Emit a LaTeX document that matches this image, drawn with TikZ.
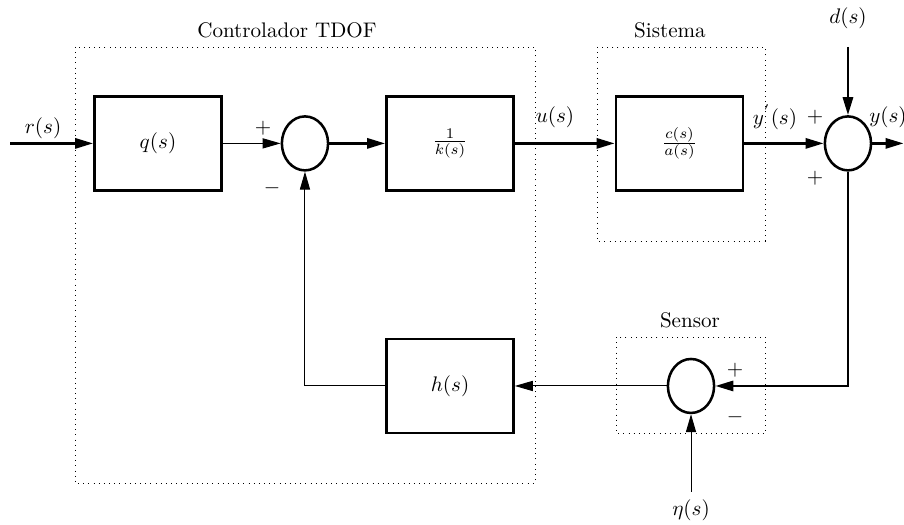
\documentclass[tikz,border=0pt]{standalone}
\usetikzlibrary{arrows.meta, shapes.geometric}

\begin{document}
\begin{tikzpicture}[>={Triangle[length=8.5pt,width=4.8pt]},
  blk/.style={draw, line width=1.2pt, minimum width=2.12cm, minimum height=1.57cm},
  sumc/.style={draw, ellipse, line width=1.2pt, minimum width=0.77cm, minimum height=0.9cm, inner sep=0pt},
  grp/.style={draw, dotted, line width=0.45pt},
  thk/.style={line width=1.2pt},
  thn/.style={line width=0.45pt}]
\useasboundingbox (0,0) rectangle (15.067,-8.75);
% dotted groups
\draw[grp] (1.25,-0.783) rectangle (8.917,-8.05);
\draw[grp] (9.95,-0.783) rectangle (12.75,-4.017);
\draw[grp] (10.283,-5.617) rectangle (12.75,-7.233);
\node (tctl) at (4.783,-0.5) {Controlador TDOF};
\node (tsys) at (11.167,-0.5) {Sistema};
\node (tsen) at (11.5,-5.333) {Sensor};
% blocks
\node[blk] (q) at (2.633,-2.39) {$q(s)$};
\node[sumc] (s1) at (5.083,-2.39) {};
\node[blk] (k) at (7.5,-2.39) {$\frac{1}{k(s)}$};
\node[blk] (ca) at (11.325,-2.39) {$\frac{c(s)}{a(s)}$};
\node[sumc] (s2) at (14.133,-2.39) {};
\node[sumc] (s3) at (11.517,-6.433) {};
\node[blk] (h) at (7.5,-6.433) {$h(s)$};
% free ends
\coordinate (rin) at (0.167,-2.39);
\coordinate (din) at (14.133,-0.783);
\coordinate (yout) at (15.06,-2.39);
\coordinate (nin) at (11.517,-8.2);
\coordinate (fbr) at (14.133,-6.433);
\coordinate (fbl) at (5.083,-6.433);
% signals
\draw[thk,->] (rin) -- (q.west);
\draw[thn,->] (q.east) -- (s1.west);
\draw[thk,->] (s1.east) -- (k.west);
\draw[thk,->] (k.east) -- (ca.west);
\draw[thk,->] (ca.east) -- (s2.west);
\draw[thk,->] (din) -- (s2.north);
\draw[thk,->] (s2.east) -- (yout);
\draw[thk,->] (s2.south) -- (fbr) -- (s3.east);
\draw[thn,->] (nin) -- (s3.south);
\draw[thn,->] (s3.west) -- (h.east);
\draw[thn,->] (h.west) -- (fbl) -- (s1.south);
% labels
\node (lr) at (0.717,-2.133) {$r(s)$};
\node (lu) at (9.25,-1.95) {$u(s)$};
\node (ld) at (14.133,-0.3) {$d(s)$};
\node (ly) at (14.8,-1.95) {$y(s)$};
\node (lyp) at (12.917,-1.95) {$y^{'}(s)$};
\node (p2a) at (13.583,-1.95) {$+$};
\node (p2b) at (13.583,-2.967) {$+$};
\node (p1) at (4.383,-2.133) {$+$};
\node (m1) at (4.533,-3.133) {$-$};
\node (p3) at (12.25,-6.167) {$+$};
\node (m3) at (12.25,-6.95) {$-$};
\node (ln) at (11.517,-8.5) {$\eta(s)$};
\end{tikzpicture}
\end{document}
